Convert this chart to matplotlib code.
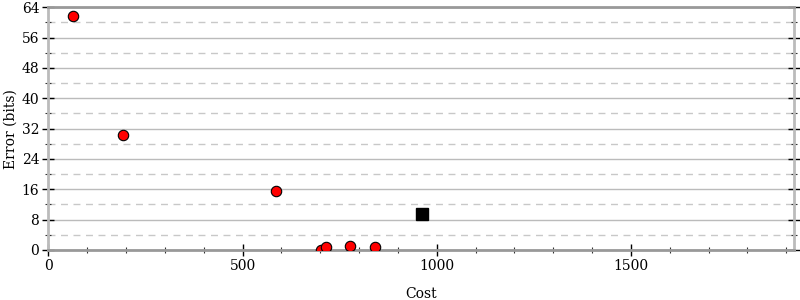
import matplotlib
matplotlib.use("Agg")
import matplotlib.pyplot as plt
from matplotlib.ticker import MultipleLocator

# red circles: cost vs error
cost = [64, 193, 585, 703, 714, 778, 840]
error = [61.6, 30.4, 15.5, 0.0, 0.9, 1.0, 0.9]

# black square
sq_cost = [961]
sq_error = [9.5]

plt.rcParams["font.family"] = "DejaVu Serif"

fig = plt.figure(figsize=(8, 3), dpi=100)
ax = fig.add_axes([0.0604, 0.1667, 0.9321, 0.809])

ax.set_xlim(0, 1920)
ax.set_ylim(0, 64)

ax.xaxis.set_major_locator(MultipleLocator(500))
ax.xaxis.set_minor_locator(MultipleLocator(100))
ax.yaxis.set_major_locator(MultipleLocator(8))
ax.yaxis.set_minor_locator(MultipleLocator(4))

ax.grid(True, which="major", axis="y", color="#bbbbbb", linewidth=1, linestyle="-")
ax.grid(True, which="minor", axis="y", color="#c8c8c8", linewidth=1, linestyle=(0, (5, 4)))
ax.set_axisbelow(True)

for side in ("top", "bottom"):
    ax.spines[side].set_color("#999999")
    ax.spines[side].set_linewidth(2)
for side in ("left", "right"):
    ax.spines[side].set_color("#bbbbbb")
    ax.spines[side].set_linewidth(2)

ax.tick_params(axis="both", which="major", direction="inout", length=9, width=1,
               color="black", labelsize=10, pad=2)
ax.tick_params(axis="both", which="minor", direction="inout", length=5, width=0.8,
               color="#333333")
ax.tick_params(axis="y", which="both", right=True)

ax.plot(cost, error, linestyle="none", marker="o", markersize=7.5,
        markerfacecolor="red", markeredgecolor="black", markeredgewidth=0.8,
        zorder=3)
ax.plot(sq_cost, sq_error, linestyle="none", marker="s", markersize=8.5,
        markerfacecolor="black", markeredgecolor="black", zorder=3)

ax.set_xlabel("Cost", fontsize=10, labelpad=10)
ax.set_ylabel("Error (bits)", fontsize=10, labelpad=3)

fig.savefig("out.png", dpi=100)
